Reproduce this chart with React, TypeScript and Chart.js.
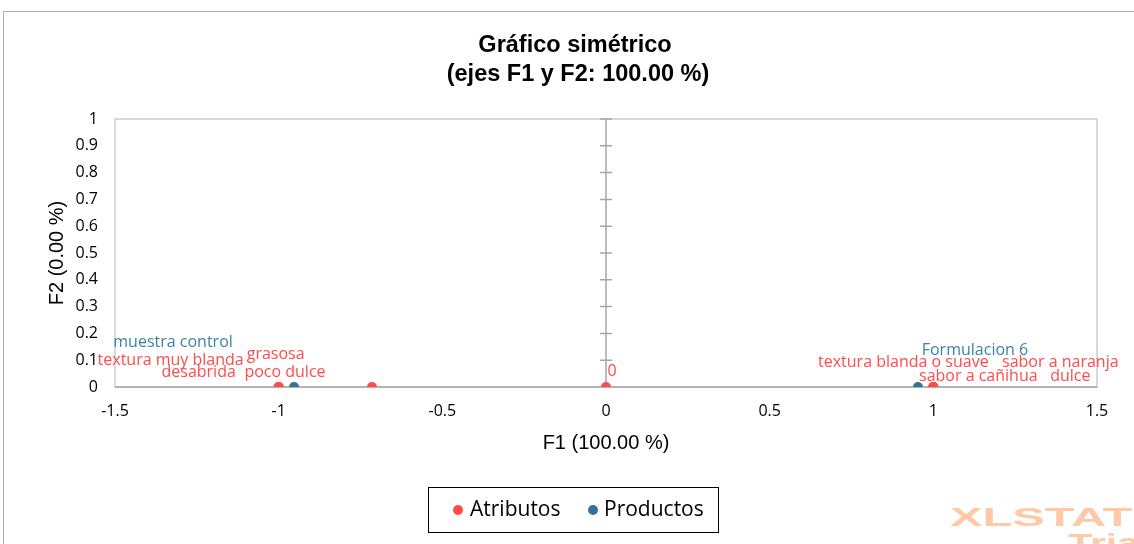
import React, { useEffect, useRef } from "react";
import { Chart, registerables } from "chart.js";

Chart.register(...registerables);

// ---- Data ----
const attributeNames = [
  "textura muy blanda",
  "desabrida",
  "grasosa",
  "poco dulce",
  "0",
  "textura blanda o suave",
  "sabor a naranja",
  "sabor a cañihua",
  "dulce",
];
const attributeF1 = [-1, -1, -1, -0.715, 0, 1, 1, 1, 1];
const attributeF2 = [0, 0, 0, 0, 0, 0, 0, 0, 0];

const productNames = ["muestra control", "Formulacion 6"];
const productF1 = [-0.953, 0.953];
const productF2 = [0, 0];

const xTicks = [-1.5, -1, -0.5, 0, 0.5, 1, 1.5];
const yTicks = [0, 0.1, 0.2, 0.3, 0.4, 0.5, 0.6, 0.7, 0.8, 0.9, 1];

const titleLines = ["Gráfico simétrico", "(ejes F1 y F2: 100.00 %)"];
const xTitle = "F1 (100.00 %)";
const yTitle = "F2 (0.00 %)";
const seriesNames = ["Atributos", "Productos"];

// label offsets in pixels from their point (label placement, not data)
const attributeLabelOffsets = [
  [-108, -27],
  [-80, -15],
  [-3, -33],
  [-87, -15],
  [6, -16],
  [-30, -25],
  [127, -25],
  [45, -11],
  [137, -11],
];
const productLabelOffsets = [
  [-121, -45],
  [57, -37],
];

const RED = "#FF4B4B";
const BLUE = "#2E7597";
const BLUE_TEXT = "#3B84A6";

const W = 1134;
const H = 544;

const decorPlugin = {
  id: "decor",
  beforeDraw(chart: any) {
    const ctx = chart.ctx as CanvasRenderingContext2D;
    ctx.save();
    ctx.fillStyle = "#ffffff";
    ctx.fillRect(0, 0, W, H);
    ctx.strokeStyle = "#b0b0b0";
    ctx.lineWidth = 1;
    ctx.strokeRect(3.5, 11.5, 1300, 700);
    ctx.restore();
  },
  beforeDatasetsDraw(chart: any) {
    const ctx = chart.ctx as CanvasRenderingContext2D;
    const { left, right, top, bottom } = chart.chartArea;
    const xs = chart.scales.x;
    const ys = chart.scales.y;
    ctx.save();
    ctx.strokeStyle = "#d9d9d9";
    ctx.lineWidth = 2;
    ctx.strokeRect(left, top, right - left, bottom - top);
    ctx.strokeStyle = "#a6a6a6";
    ctx.lineWidth = 1.5;
    const y0 = ys.getPixelForValue(0);
    const x0 = xs.getPixelForValue(0);
    ctx.beginPath();
    ctx.moveTo(left, y0);
    ctx.lineTo(right, y0);
    ctx.moveTo(x0, top);
    ctx.lineTo(x0, bottom);
    for (const t of yTicks) {
      const py = ys.getPixelForValue(t);
      ctx.moveTo(x0 - 6, py);
      ctx.lineTo(x0 + 6, py);
    }
    ctx.stroke();
    ctx.restore();
  },
  afterDatasetsDraw(chart: any) {
    const ctx = chart.ctx as CanvasRenderingContext2D;
    const { left, right, top, bottom } = chart.chartArea;
    ctx.save();
    // point labels
    ctx.textAlign = "center";
    ctx.textBaseline = "middle";
    ctx.font = "16px 'Open Sans'";
    const m0 = chart.getDatasetMeta(0);
    m0.data.forEach((el: any, i: number) => {
      const [dx, dy] = attributeLabelOffsets[i];
      ctx.fillStyle = RED;
      ctx.fillText(attributeNames[i], el.x + dx, el.y + dy);
    });
    const m1 = chart.getDatasetMeta(1);
    m1.data.forEach((el: any, i: number) => {
      const [dx, dy] = productLabelOffsets[i];
      ctx.fillStyle = BLUE_TEXT;
      ctx.fillText(productNames[i], el.x + dx, el.y + dy);
    });

    // title
    ctx.fillStyle = "#000";
    ctx.font = "bold 23.5px 'Liberation Sans'";
    ctx.fillText(titleLines[0], 575, 46);
    ctx.fillText(titleLines[1], 578, 75);

    // axis titles
    ctx.font = "20px 'Liberation Sans'";
    ctx.fillStyle = "#000";
    ctx.fillText(xTitle, (left + right) / 2, 443);
    ctx.save();
    ctx.translate(57, (top + bottom) / 2);
    ctx.rotate(-Math.PI / 2);
    ctx.fillText(yTitle, 0, 0);
    ctx.restore();

    // legend
    ctx.strokeStyle = "#000";
    ctx.lineWidth = 1;
    ctx.strokeRect(428.5, 487.5, 290, 45);
    ctx.font = "21px 'Open Sans'";
    ctx.textAlign = "left";
    const legendItems = [
      { name: seriesNames[0], color: RED, dot: 458, text: 470 },
      { name: seriesNames[1], color: BLUE, dot: 593, text: 604 },
    ];
    for (const it of legendItems) {
      ctx.fillStyle = it.color;
      ctx.beginPath();
      ctx.arc(it.dot, 510, 5, 0, Math.PI * 2);
      ctx.fill();
      ctx.fillStyle = "#000";
      ctx.fillText(it.name, it.text, 510);
    }

    // watermark
    ctx.fillStyle = "#FFC9A8";
    ctx.font = "bold 25px 'Liberation Sans'";
    ctx.textBaseline = "alphabetic";
    ctx.save();
    ctx.translate(950, 526);
    ctx.scale(1.95, 1);
    ctx.fillText("XLSTAT", 0, 0);
    ctx.restore();
    ctx.save();
    ctx.translate(1068, 552);
    ctx.scale(1.6, 1);
    ctx.fillText("Trial", 0, 0);
    ctx.restore();
    ctx.restore();
  },
};

export default function App() {
  const ref = useRef<HTMLCanvasElement | null>(null);
  useEffect(() => {
    if (!ref.current) return;
    const chart = new Chart(ref.current, {
      type: "scatter",
      data: {
        datasets: [
          {
            label: seriesNames[0],
            data: attributeF1.map((x, i) => ({ x, y: attributeF2[i] })),
            backgroundColor: RED,
            borderWidth: 0,
            pointRadius: 5,
          },
          {
            label: seriesNames[1],
            data: productF1.map((x, i) => ({ x, y: productF2[i] })),
            backgroundColor: BLUE,
            borderWidth: 0,
            pointRadius: 5,
          },
        ],
      },
      options: {
        responsive: false,
        animation: false,
        devicePixelRatio: 1,
        layout: { padding: { left: 0, right: 37, top: 119, bottom: H - 387 - 40 } },
        plugins: { legend: { display: false }, tooltip: { enabled: false }, title: { display: false } },
        scales: {
          x: {
            type: "linear",
            min: -1.5,
            max: 1.5,
            afterFit: (s: any) => {
              s.height = 40;
            },
            afterBuildTicks: (s: any) => {
              s.ticks = xTicks.map((v) => ({ value: v }));
            },
            grid: { display: false, drawTicks: false },
            border: { display: false },
            ticks: {
              padding: 15,
              color: "#000",
              font: { family: "'Open Sans'", size: 16 },
              callback: (v: any) => String(Number(Number(v).toFixed(1))),
            },
          },
          y: {
            type: "linear",
            min: 0,
            max: 1,
            afterFit: (s: any) => {
              s.width = 115;
            },
            afterBuildTicks: (s: any) => {
              s.ticks = yTicks.map((v) => ({ value: v }));
            },
            grid: { display: false, drawTicks: false },
            border: { display: false },
            ticks: {
              padding: 17,
              color: "#000",
              font: { family: "'Open Sans'", size: 16 },
              callback: (v: any) => String(Number(Number(v).toFixed(1))),
            },
          },
        },
      },
      plugins: [decorPlugin],
    });
    return () => chart.destroy();
  }, []);
  return (
    <div style={{ position: "fixed", left: 0, top: 0, width: W, height: H }}>
      <canvas ref={ref} width={W} height={H} style={{ display: "block" }} />
    </div>
  );
}
